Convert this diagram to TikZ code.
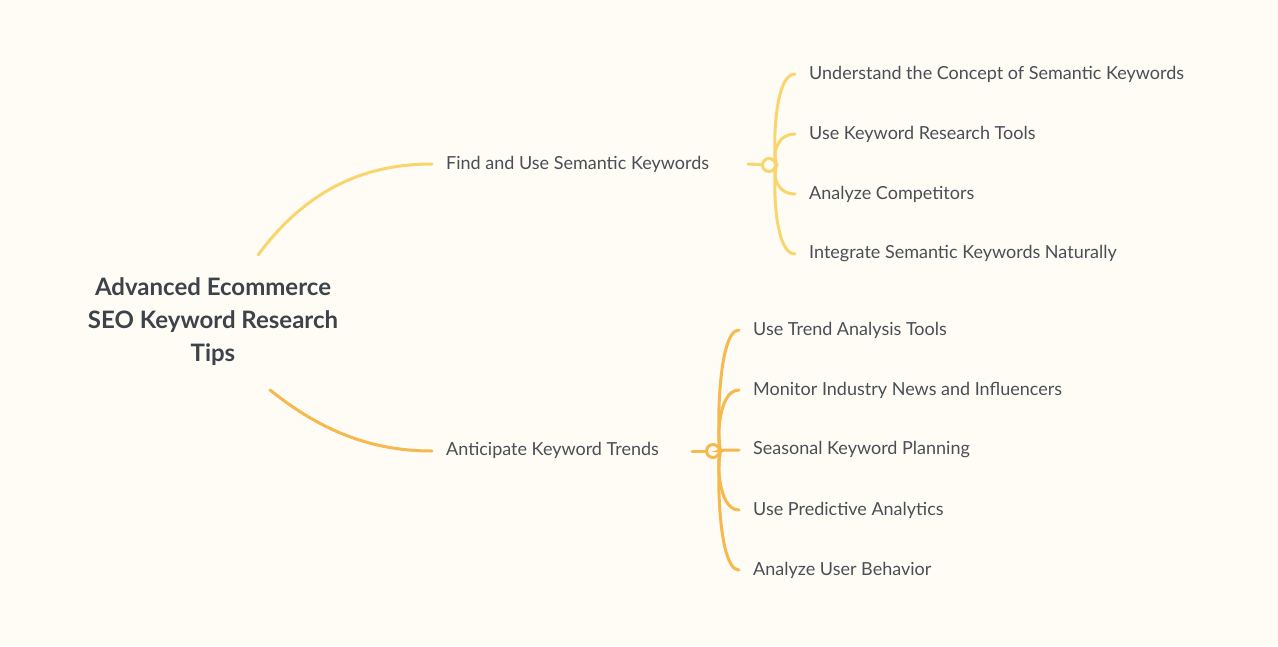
\documentclass[tikz,border=0pt]{standalone}
\usepackage{fontspec}
\setmainfont{Lato}
\usetikzlibrary{positioning,calc}
\definecolor{bgc}{HTML}{FFFCF5}
\definecolor{upc}{HTML}{F9D56E}
\definecolor{loc}{HTML}{F5B94F}
\definecolor{txc}{HTML}{4A4F57}
\definecolor{ttc}{HTML}{3D434B}
\tikzset{
  leaf/.style={anchor=west,text=txc,font=\fontsize{18}{20}\selectfont,inner sep=0pt},
  hubdot/.style={circle,draw=#1,line width=3pt,fill=bgc,minimum size=13pt,inner sep=0pt},
  wire/.style={draw=#1,line width=3pt,line cap=round}
}
\begin{document}
\begin{tikzpicture}[x=1pt,y=-1pt]
\fill[bgc] (0,0) rectangle (1278,646);
\useasboundingbox (0,0) rectangle (1278,646);

\node[text=ttc,font=\bfseries\fontsize{24}{33}\selectfont,align=center] (root) at (213,322)
  {Advanced Ecommerce\\SEO Keyword Research\\Tips};

% upper branch
\node[leaf] (sem) at (446,164) {Find and Use Semantic Keywords};
\coordinate (rootup) at (258,255);
\draw[wire=upc] (rootup) .. controls (310,185) and (370,164) .. (432,164);
\node[hubdot=upc] (hubA) at (769,165) {};
\draw[wire=upc] (748,164) -- (hubA);
\foreach \y/\t [count=\i] in {74/Understand the Concept of Semantic Keywords,
  134/Use Keyword Research Tools, 194/Analyze Competitors,
  254/Integrate Semantic Keywords Naturally}{
  \node[leaf] (a\i) at (809,\y) {\t};
  \draw[wire=upc] (hubA) .. controls (773,165) and (772,\y) .. (795,\y);
}

% lower branch
\node[leaf] (trd) at (446,450) {Anticipate Keyword Trends};
\coordinate (rootlo) at (270,390);
\draw[wire=loc] (rootlo) .. controls (320,430) and (370,451) .. (432,451);
\node[hubdot=loc] (hubB) at (713,451) {};
\draw[wire=loc] (692,451) -- (hubB);
\foreach \y/\t [count=\i] in {330/Use Trend Analysis Tools,
  390/Monitor Industry News and Influencers, 450/Seasonal Keyword Planning,
  510/Use Predictive Analytics, 570/Analyze User Behavior}{
  \node[leaf] (b\i) at (753,\y) {\t};
  \draw[wire=loc] (hubB) .. controls (717,451) and (716,\y) .. (739,\y);
}
\end{tikzpicture}
\end{document}
